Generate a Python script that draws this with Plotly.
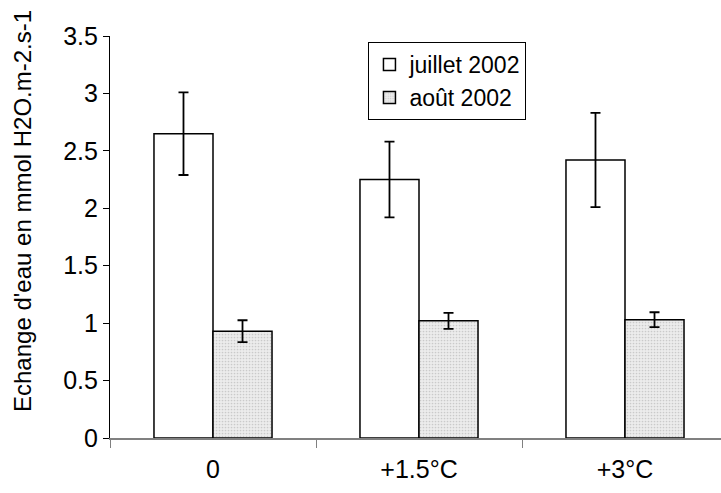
import plotly.graph_objects as go

# Treatments and water exchange measurements (mmol H2O.m-2.s-1)
categories = ["0", "+1.5°C", "+3°C"]
juillet_values = [2.65, 2.25, 2.42]
juillet_errors = [0.36, 0.33, 0.41]
aout_values = [0.93, 1.02, 1.03]
aout_errors = [0.095, 0.07, 0.065]
y_ticks = [0, 0.5, 1, 1.5, 2, 2.5, 3, 3.5]

FONT = "Liberation Sans, Arial, sans-serif"
FS = 25

fig = go.Figure()
fig.add_trace(go.Bar(
    name="juillet 2002",
    x=categories, y=juillet_values,
    marker=dict(color="white", line=dict(color="black", width=1.5)),
    error_y=dict(type="data", array=juillet_errors, color="black", thickness=1.8, width=5),
))
fig.add_trace(go.Bar(
    name="août 2002",
    x=categories, y=aout_values,
    marker=dict(
        color="#e4e4e4",
        line=dict(color="black", width=1.5),
        pattern=dict(shape=".", bgcolor="#ececec", fgcolor="#a8a8a8", size=3, solidity=0.25),
    ),
    error_y=dict(type="data", array=aout_errors, color="black", thickness=1.8, width=5),
))

fig.update_layout(
    width=721, height=493,
    margin=dict(l=110, r=0, t=36, b=55),
    paper_bgcolor="white", plot_bgcolor="white",
    barmode="group", bargap=0.427, bargroupgap=0,
    font=dict(family=FONT, size=FS, color="black"),
    showlegend=True,
    legend=dict(
        x=0.423, y=0.985, xanchor="left", yanchor="top",
        bordercolor="black", borderwidth=1, bgcolor="white",
        font=dict(family=FONT, size=23, color="black"),
        itemwidth=30, tracegroupgap=0,
    ),
)

fig.update_xaxes(
    type="category",
    range=[-0.5, -0.5 + 611 / 206],
    tickson="boundaries",
    ticks="outside", ticklen=8, tickcolor="#808080",
    showline=True, linecolor="#808080", linewidth=1.5,
    showgrid=False, zeroline=False,
    ticklabelstandoff=8,
    tickfont=dict(family=FONT, size=FS),
)
fig.update_yaxes(
    range=[0, 3.5],
    tickvals=y_ticks,
    ticks="outside", ticklen=6, tickcolor="black",
    showline=True, linecolor="black", linewidth=1.2,
    showgrid=False, zeroline=False,
    tickfont=dict(family=FONT, size=FS),
)

fig.add_annotation(
    text="Echange d'eau en mmol H2O.m-2.s-1",
    xref="paper", yref="paper",
    x=0, xshift=-88, y=(493 - 55 - 414) / 402, yanchor="bottom", xanchor="center",
    textangle=-90, showarrow=False,
    font=dict(family=FONT, size=24, color="black"),
)

fig.write_html("out.html")
